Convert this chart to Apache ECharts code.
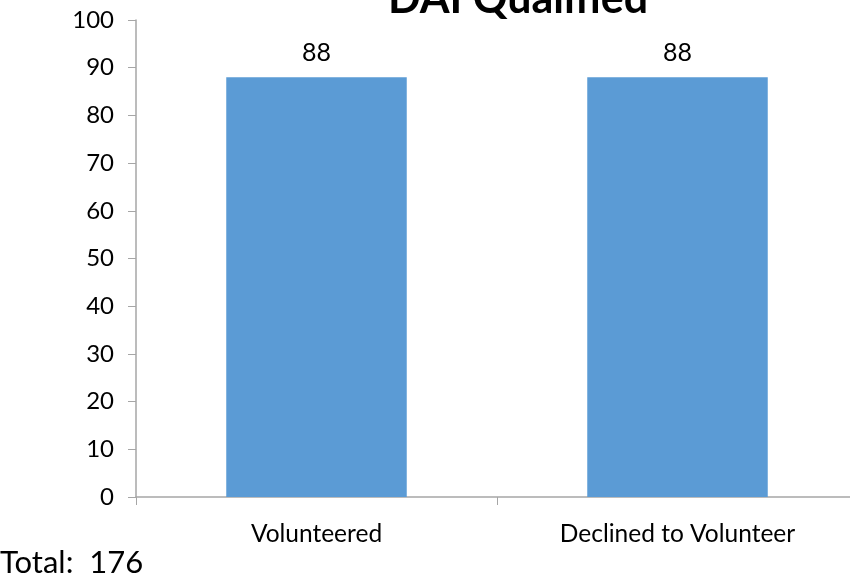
<!DOCTYPE html>
<html><head><meta charset="utf-8">
<script src="https://cdn.jsdelivr.net/npm/echarts@6/dist/echarts.min.js"></script>
<style>html,body{margin:0;padding:0;background:#fff}#c{width:850px;height:580px}</style>
</head><body><div id="c"></div>
<script>
const categories = ["Volunteered", "Declined to Volunteer"];
const values = [88, 88];
const titleText = "DAI Qualified";
const totalText = "Total:  176";
const chart = echarts.init(document.getElementById('c'));
const F = 'Lato, "Open Sans", sans-serif';
chart.setOption({
  animation: false,
  title: {text: titleText, left: 513, textAlign: 'center', top: -27,
    textStyle: {fontFamily: F, fontWeight: 'bold', fontSize: 43, color: '#000'}},
  graphic: [{type: 'text', left: 0, top: 547, style: {text: totalText, font: '31px ' + F, fill: '#000'}}],
  grid: {left: 136, width: 722, top: 20, height: 477, outerBoundsMode: 'none'},
  xAxis: {type: 'category', data: categories,
    axisLine: {lineStyle: {color: '#a6a6a6', width: 1.5}},
    axisTick: {show: true, length: 8, lineStyle: {color: '#a6a6a6'}},
    axisLabel: {color: '#000', fontFamily: F, fontSize: 24.5, margin: 25}},
  yAxis: {type: 'value', min: 0, max: 100, interval: 10,
    axisLine: {show: true, lineStyle: {color: '#a6a6a6', width: 1.5}},
    axisTick: {show: true, length: 8, lineStyle: {color: '#a6a6a6'}},
    splitLine: {show: false},
    axisLabel: {color: '#000', fontFamily: F, fontSize: 24, margin: 22}},
  series: [{type: 'bar', data: values, barWidth: '50%',
    itemStyle: {color: '#5b9bd5'},
    label: {show: true, position: 'top', distance: 12, color: '#000', fontFamily: F, fontSize: 25}}]
});
</script></body></html>
